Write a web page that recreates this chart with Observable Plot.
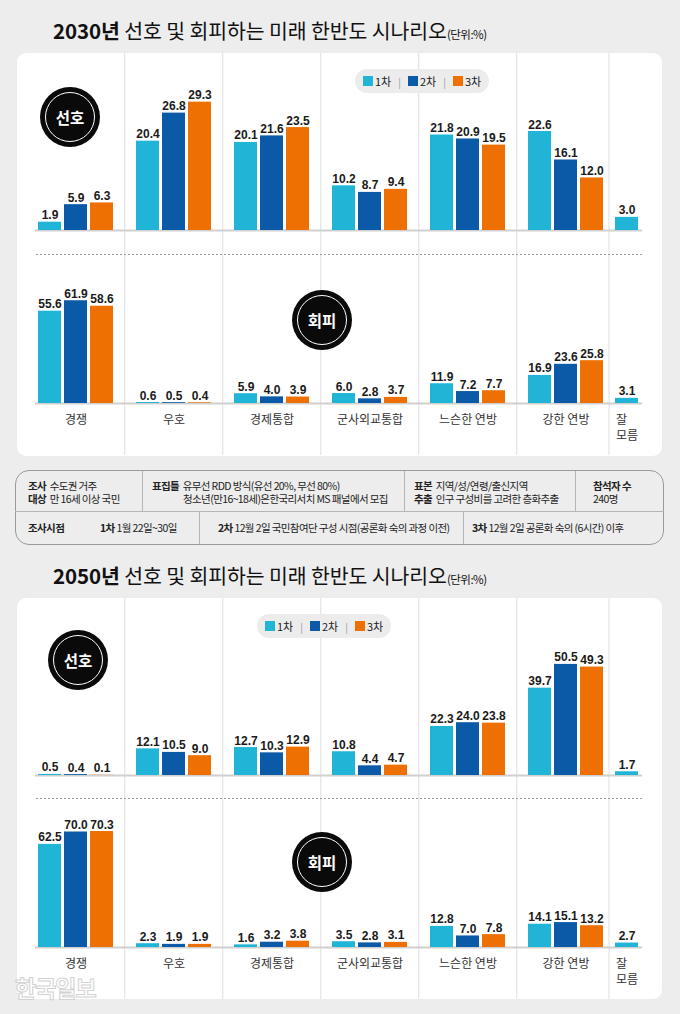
<!DOCTYPE html>
<html><head><meta charset="utf-8">
<script src="https://cdn.jsdelivr.net/npm/d3@7"></script>
<script src="https://cdn.jsdelivr.net/npm/@observablehq/plot@0.6"></script>
<style>
body{margin:0;background:#ededed;font-family:"Noto Sans CJK KR","Noto Sans",sans-serif;}
#root{position:relative;width:680px;height:1014px;overflow:hidden;background:#ededed;}
.title{position:absolute;left:53px;font-size:20.5px;line-height:24px;color:#111;white-space:nowrap;letter-spacing:-0.1px;}
.title b{font-weight:700;}
.title small{font-size:11.5px;letter-spacing:-0.5px;}
.panel{position:absolute;left:17px;width:645px;background:#fff;border-radius:9px;}
.badge{position:absolute;width:60px;height:60px;border-radius:50%;background:#0a0a0a;color:#fff;font-weight:700;font-size:15.5px;display:flex;align-items:center;justify-content:center;}
.badge::after{content:"";position:absolute;left:5px;top:5px;right:5px;bottom:5px;border-radius:50%;border:1.5px solid #fff;}
.legend{position:absolute;height:24px;background:#ececec;border-radius:12px;display:flex;align-items:center;font-size:11px;color:#222;padding:0 8px;box-sizing:border-box;}
.legend i{display:inline-block;width:10px;height:10px;margin-right:2px;}
.legend .sep{color:#999;margin:0 7px;font-size:10px;}
.dash{position:absolute;left:36px;width:606px;height:1.2px;background:repeating-linear-gradient(to right,#9a9a9a 0 2px,transparent 2px 4px);}
.info{position:absolute;left:15px;top:470px;width:649px;height:75px;border:1.5px solid #9a9a9a;border-radius:14px;box-sizing:border-box;}
.ln{position:absolute;background:#b5b5b5;}
.it{position:absolute;font-size:10.5px;line-height:13px;color:#222;white-space:nowrap;letter-spacing:-0.6px;}
.it b{font-weight:700;}
.wm{position:absolute;left:15px;top:976px;font-size:23px;line-height:22px;font-weight:700;color:rgba(255,255,255,0.75);-webkit-text-stroke:1px #d2d2d2;letter-spacing:-1px;}
svg.row{position:absolute;left:0;}
</style>
</head><body>
<div id="root">
  <div class="title" style="top:18px;"><b>2030년</b> 선호 및 회피하는 미래 한반도 시나리오<small>(단위:%)</small></div>
  <div class="panel" style="top:53px;height:403px;"></div>
  <div class="title" style="top:563px;"><b>2050년</b> 선호 및 회피하는 미래 한반도 시나리오<small>(단위:%)</small></div>
  <div class="panel" style="top:598px;height:401px;"></div>
</div>
<script>
// ---- data ----
const categories = ["경쟁", "우호", "경제통합", "군사외교통합", "느슨한 연방", "강한 연방"];
const dkLabel = "잘\n모름";
const rounds = ["1차", "2차", "3차"];
const colors = ["#20b5d6", "#0b5aa8", "#ee7003"];

// 2030 선호
const pref2030_r1 = [1.9, 20.4, 20.1, 10.2, 21.8, 22.6];
const pref2030_r2 = [5.9, 26.8, 21.6, 8.7, 20.9, 16.1];
const pref2030_r3 = [6.3, 29.3, 23.5, 9.4, 19.5, 12.0];
const pref2030_dk = 3.0;
// 2030 회피
const avoid2030_r1 = [55.6, 0.6, 5.9, 6.0, 11.9, 16.9];
const avoid2030_r2 = [61.9, 0.5, 4.0, 2.8, 7.2, 23.6];
const avoid2030_r3 = [58.6, 0.4, 3.9, 3.7, 7.7, 25.8];
const avoid2030_dk = 3.1;
// 2050 선호
const pref2050_r1 = [0.5, 12.1, 12.7, 10.8, 22.3, 39.7];
const pref2050_r2 = [0.4, 10.5, 10.3, 4.4, 24.0, 50.5];
const pref2050_r3 = [0.1, 9.0, 12.9, 4.7, 23.8, 49.3];
const pref2050_dk = 1.7;
// 2050 회피
const avoid2050_r1 = [62.5, 2.3, 1.6, 3.5, 12.8, 14.1];
const avoid2050_r2 = [70.0, 1.9, 3.2, 2.8, 7.0, 15.1];
const avoid2050_r3 = [70.3, 1.9, 3.8, 3.1, 7.8, 13.2];
const avoid2050_dk = 2.7;

const root = document.getElementById("root");
const STEP = 98.6, X0 = 24.2;
const numFont = "'Liberation Sans', Arial, sans-serif";
const krFont = "'Noto Sans CJK KR', sans-serif";

function row({series, dk, yMax, base, ppu, height, top, labels}) {
  const all = [...categories, dkLabel];
  const tbl = arr => categories.map((c, i) => ({cat: c, value: arr[i]}));
  const insets = [[0, 52], [26, 26], [52, 0]];
  const offs = [-26, 0, 26];
  const numStyle = {lineAnchor: "bottom", dy: -3, fontSize: 12, fontWeight: 700, fontFamily: numFont, fill: "#1a1a1a"};
  const marks = [
    Plot.ruleX(categories.slice(1), {x: d => d, dx: -STEP / 2, stroke: "#e4e4e4", strokeWidth: 1.2}),
    Plot.ruleX([dkLabel], {x: d => d, dx: -55, stroke: "#e4e4e4", strokeWidth: 1.2}),
    Plot.ruleY([0], {stroke: "#d0d0d0", strokeWidth: 2})
  ];
  series.forEach((arr, k) => {
    marks.push(Plot.barY(tbl(arr), {x: "cat", y: "value", fill: colors[k], insetLeft: insets[k][0], insetRight: insets[k][1]}));
    marks.push(Plot.text(tbl(arr), {x: "cat", y: "value", text: d => d.value.toFixed(1), dx: offs[k], ...numStyle}));
  });
  const dkRow = [{cat: dkLabel, value: dk}];
  marks.push(Plot.barY(dkRow, {x: "cat", y: "value", fill: colors[0], insetRight: 52, dx: -11}));
  marks.push(Plot.text(dkRow, {x: "cat", y: "value", text: d => d.value.toFixed(1), dx: -37, ...numStyle}));
  if (labels) {
    marks.push(Plot.text(categories, {x: d => d, frameAnchor: "bottom", dy: -(height - labels), lineAnchor: "middle", fontSize: 12, fontFamily: krFont, fill: "#333"}));
    marks.push(Plot.text([dkLabel], {x: d => d, text: d => d, frameAnchor: "bottom", dy: -(height - labels) - 8, textAnchor: "start", dx: -48, lineAnchor: "top", lineHeight: 1.35, fontSize: 12, fontFamily: krFont, fill: "#333"}));
  }
  const svg = Plot.plot({
    width: 680, height,
    marginTop: 0, marginBottom: 0, marginLeft: 35, marginRight: 38,
    x: {type: "band", domain: all, range: [X0, X0 + STEP * all.length], paddingInner: 0.234, paddingOuter: 0.117, axis: null},
    y: {domain: [0, yMax], range: [base, base - yMax * ppu], axis: null},
    style: {background: "transparent", overflow: "visible"},
    marks
  });
  svg.classList.add("row");
  svg.style.top = top + "px";
  root.appendChild(svg);
}

row({series: [pref2030_r1, pref2030_r2, pref2030_r3], dk: pref2030_dk, yMax: 40, base: 177, ppu: 4.38, height: 192, top: 53});
row({series: [avoid2030_r1, avoid2030_r2, avoid2030_r3], dk: avoid2030_dk, yMax: 90, base: 158, ppu: 1.66, height: 210, top: 245, labels: 175});
row({series: [pref2050_r1, pref2050_r2, pref2050_r3], dk: pref2050_dk, yMax: 80, base: 177, ppu: 2.2, height: 192, top: 598});
row({series: [avoid2050_r1, avoid2050_r2, avoid2050_r3], dk: avoid2050_dk, yMax: 95, base: 157, ppu: 1.65, height: 209, top: 790, labels: 174});

// ---- decorations ----
function add(html) { root.insertAdjacentHTML("beforeend", html); }
add(`<div class="dash" style="top:254px;"></div>`);
add(`<div class="dash" style="top:798px;"></div>`);
function badge(txt, cx, cy) { add(`<div class="badge" style="left:${cx - 30}px;top:${cy - 30}px;">${txt}</div>`); }
badge("선호", 70, 117); badge("회피", 322, 320);
badge("선호", 78, 660); badge("회피", 322, 862);
function legend(left, top) {
  const items = rounds.map((r, i) => `<i style="background:${colors[i]}"></i>${r}`).join(`<span class="sep">|</span>`);
  add(`<div class="legend" style="left:${left}px;top:${top}px;">${items}</div>`);
}
legend(355, 69); legend(257, 614);

// info box
add(`<div class="info"></div>`);
const lines = [
  [15, 511, 649, 1], [142, 471, 1, 40], [404, 471, 1, 40], [575, 471, 1, 40],
  [199, 512, 1, 32], [463, 512, 1, 32]
];
lines.forEach(([x, y, w, h]) => add(`<div class="ln" style="left:${x}px;top:${y}px;width:${w}px;height:${h}px;"></div>`));
const infoTexts = [
  [28, 479, "<b>조사</b>&nbsp; 수도권 거주"],
  [28, 492, "<b>대상</b>&nbsp; 만 16세 이상 국민"],
  [152, 479, "<b>표집틀</b>&nbsp; 유무선 RDD 방식(유선 20%, 무선 80%)"],
  [183, 492, "청소년(만16~18세)은한국리서치 MS 패널에서 모집"],
  [414, 479, "<b>표본</b>&nbsp; 지역/성/연령/출신지역"],
  [414, 492, "<b>추출</b>&nbsp; 인구 구성비를 고려한 층화추출"],
  [593, 479, "<b>참석자&nbsp;수</b>"],
  [593, 492, "240명"],
  [28, 521, "<b>조사시점</b>"],
  [100, 521, "<b>1차</b> 1월 22일~30일"],
  [218, 521, "<b>2차</b> 12월 2일 국민참여단 구성 시점(공론화 숙의 과정 이전)"],
  [472, 521, "<b>3차</b> 12월 2일 공론화 숙의 (6시간) 이후"]
];
infoTexts.forEach(([x, y, t]) => add(`<div class="it" style="left:${x}px;top:${y}px;">${t}</div>`));
add(`<div class="wm">한국일보</div>`);
</script>
</body></html>
